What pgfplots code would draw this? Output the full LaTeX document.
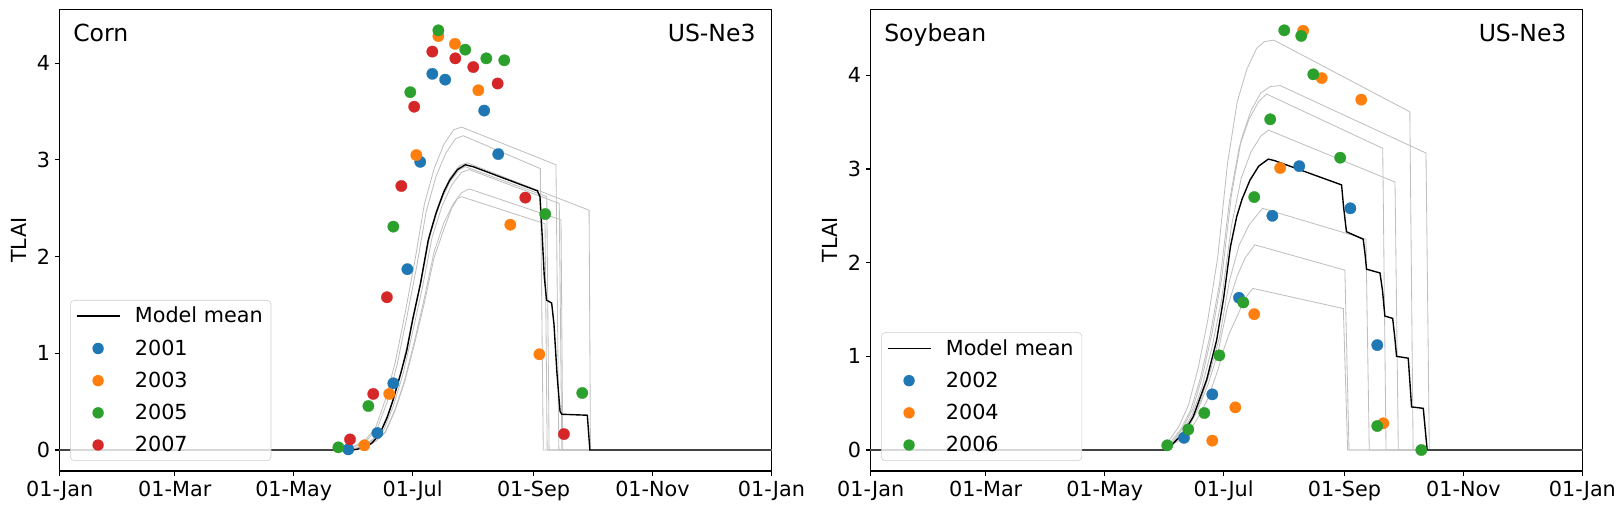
\documentclass[border=0pt]{standalone}
\usepackage{pgfplots}
\pgfplotsset{compat=1.18}
\usepackage{fontspec}
\setmainfont{DejaVu Sans}
\definecolor{c1}{HTML}{1F77B4}
\definecolor{c2}{HTML}{FF7F0E}
\definecolor{c3}{HTML}{2CA02C}
\definecolor{c4}{HTML}{D62728}
\definecolor{mgray}{HTML}{BFBFBF}
\begin{document}
\begin{tikzpicture}
\useasboundingbox (0,0) rectangle (1167.84bp,367.92bp);
\pgfplotsset{
  myaxis/.style={
    scale only axis, width=512.4bp, height=332.4bp, anchor=south west,
    xmin=0, xmax=365,
    xtick={0,59,120,181,243,304,365},
    xticklabels={01-Jan,01-Mar,01-May,01-Jul,01-Sep,01-Nov,01-Jan},
    ytick={0,1,2,3,4},
    tick align=outside, tick pos=left,
    major tick length=3.5bp,
    tick style={black, line width=0.8bp},
    axis line style={line width=0.8bp},
    tick label style={font=\fontsize{15}{18}\selectfont},
    label style={font=\fontsize{15}{18}\selectfont},
    /pgf/number format/assume math mode=true,
    ylabel={TLAI},
    ylabel style={at={(axis description cs:-0.057,0.5)}, anchor=center},
    legend cell align=left,
    legend style={at={(axis description cs:0.0145,0.0217)}, anchor=south west,
      draw=black!20, rounded corners=3bp, fill=white, fill opacity=0.8, text opacity=1,
      font=\fontsize{15}{18}\selectfont, row sep=6.6bp, inner xsep=4bp, inner ysep=3bp},
  },
  mem/.style={color=mgray, line width=0.6bp, forget plot},
  mean/.style={color=black, line width=1bp,
    legend image code/.code={\path[draw=none,fill=none] (0bp,-1bp) rectangle (40bp,1bp); \draw[black, line width=1bp, opacity=1] (0bp,0bp) -- (31bp,0bp);}},
  obs/.style={only marks, mark=*, mark size=4.1bp, color=#1, mark options={line width=0.2bp},
    legend image code/.code={\path[draw=none,fill=none] (0bp,-1bp) rectangle (40bp,1bp); \fill[#1, draw=none, opacity=1] (15.5bp,0bp) circle[radius=4.1bp];}},
}
% ---------------- Corn ----------------
\begin{axis}[myaxis, at={(43bp,28.8bp)}, ymin=-0.2167, ymax=4.557]
\addplot[mem] coordinates {(0,0)(145,0)(147,0.01)(152,0.05)(157,0.11)(162,0.23)(167,0.52)(172,0.9)(177,1.40)(182,1.94)(187,2.54)(192,2.91)(197,3.16)(202,3.31)(206,3.34)(254.5,2.95)(256,0)(366,0)};
\addplot[mem] coordinates {(0,0)(146,0)(148,0.01)(153,0.05)(158,0.11)(163,0.23)(168,0.50)(173,0.88)(178,1.37)(183,1.89)(188,2.47)(193,2.83)(198,3.07)(203,3.22)(207,3.25)(246.5,2.91)(248,0)(366,0)};
\addplot[mem] coordinates {(0,0)(148,0)(150,0.01)(155,0.04)(160,0.10)(165,0.21)(170,0.46)(175,0.80)(180,1.25)(185,1.72)(190,2.26)(195,2.58)(200,2.81)(205,2.94)(209,2.97)(271.5,2.48)(272.2,0)(366,0)};
\addplot[mem] coordinates {(0,0)(148,0)(150,0.01)(155,0.04)(160,0.10)(165,0.20)(170,0.45)(175,0.79)(180,1.23)(185,1.70)(190,2.23)(195,2.55)(200,2.77)(205,2.90)(208,2.93)(249.8,2.62)(251,0)(366,0)};
\addplot[mem] coordinates {(0,0)(149,0)(151,0.01)(156,0.04)(161,0.10)(166,0.20)(171,0.45)(176,0.78)(181,1.22)(186,1.68)(191,2.20)(196,2.52)(201,2.74)(206,2.87)(210,2.90)(256.2,2.55)(257.5,0)(366,0)};
\addplot[mem] coordinates {(0,0)(150,0)(152,0.01)(157,0.04)(162,0.09)(167,0.19)(172,0.42)(177,0.73)(182,1.13)(187,1.57)(192,2.05)(197,2.35)(202,2.55)(206,2.66)(210,2.70)(257.1,2.38)(258,0)(366,0)};
\addplot[mem] coordinates {(0,0)(150,0)(152,0.01)(157,0.04)(162,0.09)(167,0.18)(172,0.41)(177,0.71)(182,1.10)(187,1.52)(192,1.99)(197,2.28)(201,2.50)(204,2.60)(206,2.62)(248.9,2.34)(250,0)(366,0)};
\addplot[mean] coordinates {(0,0)(150,0)(153,0.01)(156,0.03)(160,0.07)(164,0.16)(168,0.34)(171,0.52)(175,0.8)(178,1.03)(181,1.35)(185,1.72)(189,2.17)(193,2.45)(197,2.67)(200,2.79)(204,2.9)(208,2.95)(212,2.93)(245,2.68)(246.3,2.62)(247.5,2.2)(248.5,1.8)(249.7,1.55)(252.3,1.52)(253.5,1.3)(255,0.8)(256.6,0.40)(257.5,0.37)(270.6,0.36)(271.9,0)(366,0)};
\addlegendentry{Model mean}
\addplot[obs=c1] coordinates {(148,0.007)(162.9,0.176)(171.1,0.69)(178.3,1.87)(184.9,2.98)(191.1,3.89)(197.7,3.83)(217.7,3.51)(224.9,3.06)};
\addlegendentry{2001}
\addplot[obs=c2] coordinates {(156.2,0.049)(169,0.58)(182.9,3.05)(194.2,4.28)(202.7,4.20)(214.7,3.72)(231.1,2.33)(246,0.99)};
\addlegendentry{2003}
\addplot[obs=c3] coordinates {(142.9,0.028)(158.3,0.455)(171.1,2.31)(179.8,3.70)(194.2,4.34)(208,4.14)(218.8,4.05)(228,4.03)(249,2.44)(268,0.59)};
\addlegendentry{2005}
\addplot[obs=c4] coordinates {(148.9,0.11)(160.8,0.58)(167.8,1.58)(175.2,2.73)(181.8,3.55)(191.1,4.12)(202.9,4.05)(212.1,3.96)(224.6,3.79)(238.8,2.61)(258.6,0.165)};
\addlegendentry{2007}
\node[anchor=base west, font=\fontsize{17}{20}\selectfont, inner sep=0pt] at (axis description cs:0.0187,0.930) {Corn};
\node[anchor=base east, font=\fontsize{17}{20}\selectfont, inner sep=0pt] at (axis description cs:0.978,0.930) {US-Ne3};
\end{axis}
% ---------------- Soybean ----------------
\begin{axis}[myaxis, at={(626.9bp,28.8bp)}, ymin=-0.224, ymax=4.704]
\addplot[mem] coordinates {(0,0)(148,0)(150,0)(153,0.10)(158,0.25)(163,0.48)(168,0.88)(173,1.40)(178,2.06)(183,3.06)(188,3.72)(193,4.07)(198,4.29)(202,4.36)(206.8,4.375)(276.5,3.61)(278.2,0)(366,0)};
\addplot[mem] coordinates {(0,0)(152,0)(155,0.09)(160,0.23)(165,0.43)(170,0.78)(175,1.24)(180,1.83)(185,2.72)(190,3.31)(195,3.62)(200,3.81)(205,3.88)(210,3.89)(284.8,3.17)(286.5,0)(366,0)};
\addplot[mem] coordinates {(0,0)(151,0)(154,0.09)(159,0.22)(164,0.42)(169,0.76)(174,1.22)(179,1.79)(184,2.66)(189,3.23)(194,3.53)(199,3.72)(203,3.80)(262.6,3.22)(264.3,0)(366,0)};
\addplot[mem] coordinates {(0,0)(152,0)(155,0.08)(160,0.20)(165,0.38)(170,0.68)(175,1.09)(180,1.61)(185,2.39)(190,2.90)(195,3.18)(200,3.35)(204,3.415)(268.9,2.86)(270.6,0)(366,0)};
\addplot[mem] coordinates {(0,0)(151,0)(154,0.06)(159,0.15)(164,0.28)(169,0.52)(174,0.83)(179,1.21)(184,1.81)(189,2.19)(194,2.40)(199,2.53)(201,2.58)(254,2.25)(255.7,0)(366,0)};
\addplot[mem] coordinates {(0,0)(150,0)(153,0.05)(158,0.13)(163,0.24)(168,0.44)(173,0.70)(178,1.03)(183,1.53)(188,1.86)(192,2.05)(197,2.19)(243.2,1.92)(245.3,0)(366,0)};
\addplot[mem] coordinates {(0,0)(150,0)(153,0.04)(158,0.10)(163,0.19)(168,0.35)(173,0.55)(178,0.85)(181,1.07)(184,1.25)(188,1.43)(192,1.62)(196,1.725)(242.4,1.51)(244.6,0)(366,0)};
\addplot[mean] coordinates {(0,0)(151.8,0)(155.2,0.07)(160.3,0.18)(165.4,0.355)(172.3,0.75)(177.4,1.17)(181,1.62)(184.5,2.17)(187.7,2.49)(190.5,2.68)(194.5,2.88)(199,3.03)(203.9,3.105)(207,3.09)(241.5,2.83)(242.5,2.6)(244,2.33)(252.6,2.25)(253.5,2.1)(254.3,1.93)(261.2,1.89)(262.5,1.7)(263.7,1.43)(267.7,1.405)(268.8,1.2)(269.7,1.0)(275.7,0.98)(277.4,0.46)(283.4,0.445)(285.4,0)(366,0)};
\addlegendentry{Model mean}
\addplot[obs=c1] coordinates {(160.7,0.13)(175.2,0.594)(188.9,1.625)(206,2.50)(219.8,3.03)(246,2.58)(259.8,1.12)};
\addlegendentry{2002}
\addplot[obs=c2] coordinates {(175.2,0.10)(187,0.455)(196.7,1.45)(210,3.01)(221.8,4.475)(231.3,3.97)(251.6,3.74)(262.9,0.285)};
\addlegendentry{2004}
\addplot[obs=c3] coordinates {(152.1,0.05)(162.9,0.22)(171.1,0.395)(178.8,1.01)(191.1,1.575)(196.7,2.70)(204.9,3.53)(212.1,4.48)(220.8,4.42)(227,4.01)(240.8,3.12)(259.8,0.256)(282.4,0)};
\addlegendentry{2006}
\node[anchor=base west, font=\fontsize{17}{20}\selectfont, inner sep=0pt] at (axis description cs:0.0187,0.930) {Soybean};
\node[anchor=base east, font=\fontsize{17}{20}\selectfont, inner sep=0pt] at (axis description cs:0.978,0.930) {US-Ne3};
\end{axis}
\end{tikzpicture}
\end{document}
